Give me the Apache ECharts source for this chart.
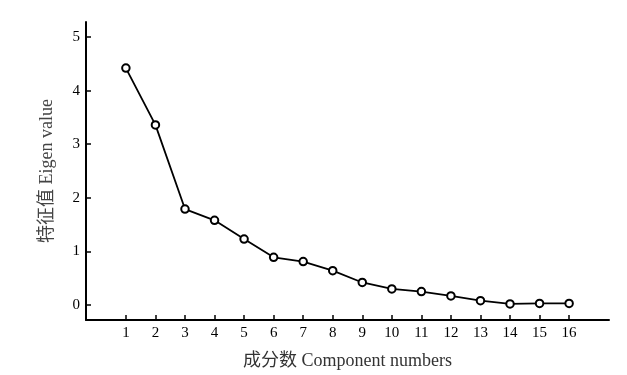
<!DOCTYPE html>
<html><head><meta charset="utf-8">
<script src="https://cdn.jsdelivr.net/npm/echarts@6/dist/echarts.min.js"></script>
<style>html,body{margin:0;padding:0;background:#fff}#c{width:627px;height:375px}</style>
</head><body><div id="c"></div>
<script>
const components = [1,2,3,4,5,6,7,8,9,10,11,12,13,14,15,16];
const eigenValues = [4.42,3.36,1.79,1.58,1.23,0.89,0.81,0.64,0.42,0.30,0.25,0.17,0.08,0.02,0.03,0.03];
const yTicks = [0,1,2,3,4,5];
const xName = '成分数 Component numbers';
const yName = '特征值 Eigen value';

const chart = echarts.init(document.getElementById('c'), null, {renderer:'canvas'});
const serif = '"Liberation Serif","Noto Sans CJK SC",serif';
chart.setOption({
  animation:false,
  grid:{left:86,right:18,top:22,bottom:53,containLabel:false},
  xAxis:{
    type:'value', min:-0.35, max:17.35,
    name:xName, nameLocation:'middle', nameGap:32,
    nameTextStyle:{fontFamily:serif,fontSize:18,color:'#333'},
    axisLine:{onZero:false,lineStyle:{color:'#000',width:2}},
    axisTick:{inside:true,length:5,lineStyle:{color:'#000',width:1.5},customValues:components},
    axisLabel:{fontFamily:serif,fontSize:15,color:'#000',margin:6,customValues:components},
    splitLine:{show:false}
  },
  yAxis:{
    type:'value', min:-0.28, max:5.28,
    name:yName, nameLocation:'middle', nameGap:30,
    nameTextStyle:{fontFamily:serif,fontSize:18,color:'#444'},
    axisLine:{show:true,onZero:false,lineStyle:{color:'#000',width:2}},
    axisTick:{show:true,inside:true,length:5,lineStyle:{color:'#000',width:1.5},customValues:yTicks},
    axisLabel:{fontFamily:serif,fontSize:15,color:'#000',margin:6,customValues:yTicks},
    splitLine:{show:false}
  },
  series:[{
    type:'line',
    data:components.map((c,i)=>[c,eigenValues[i]]),
    symbol:'circle', symbolSize:7.5,
    itemStyle:{color:'#fff',borderColor:'#000',borderWidth:2},
    lineStyle:{color:'#000',width:1.8},
    z:3
  }]
});
</script></body></html>
